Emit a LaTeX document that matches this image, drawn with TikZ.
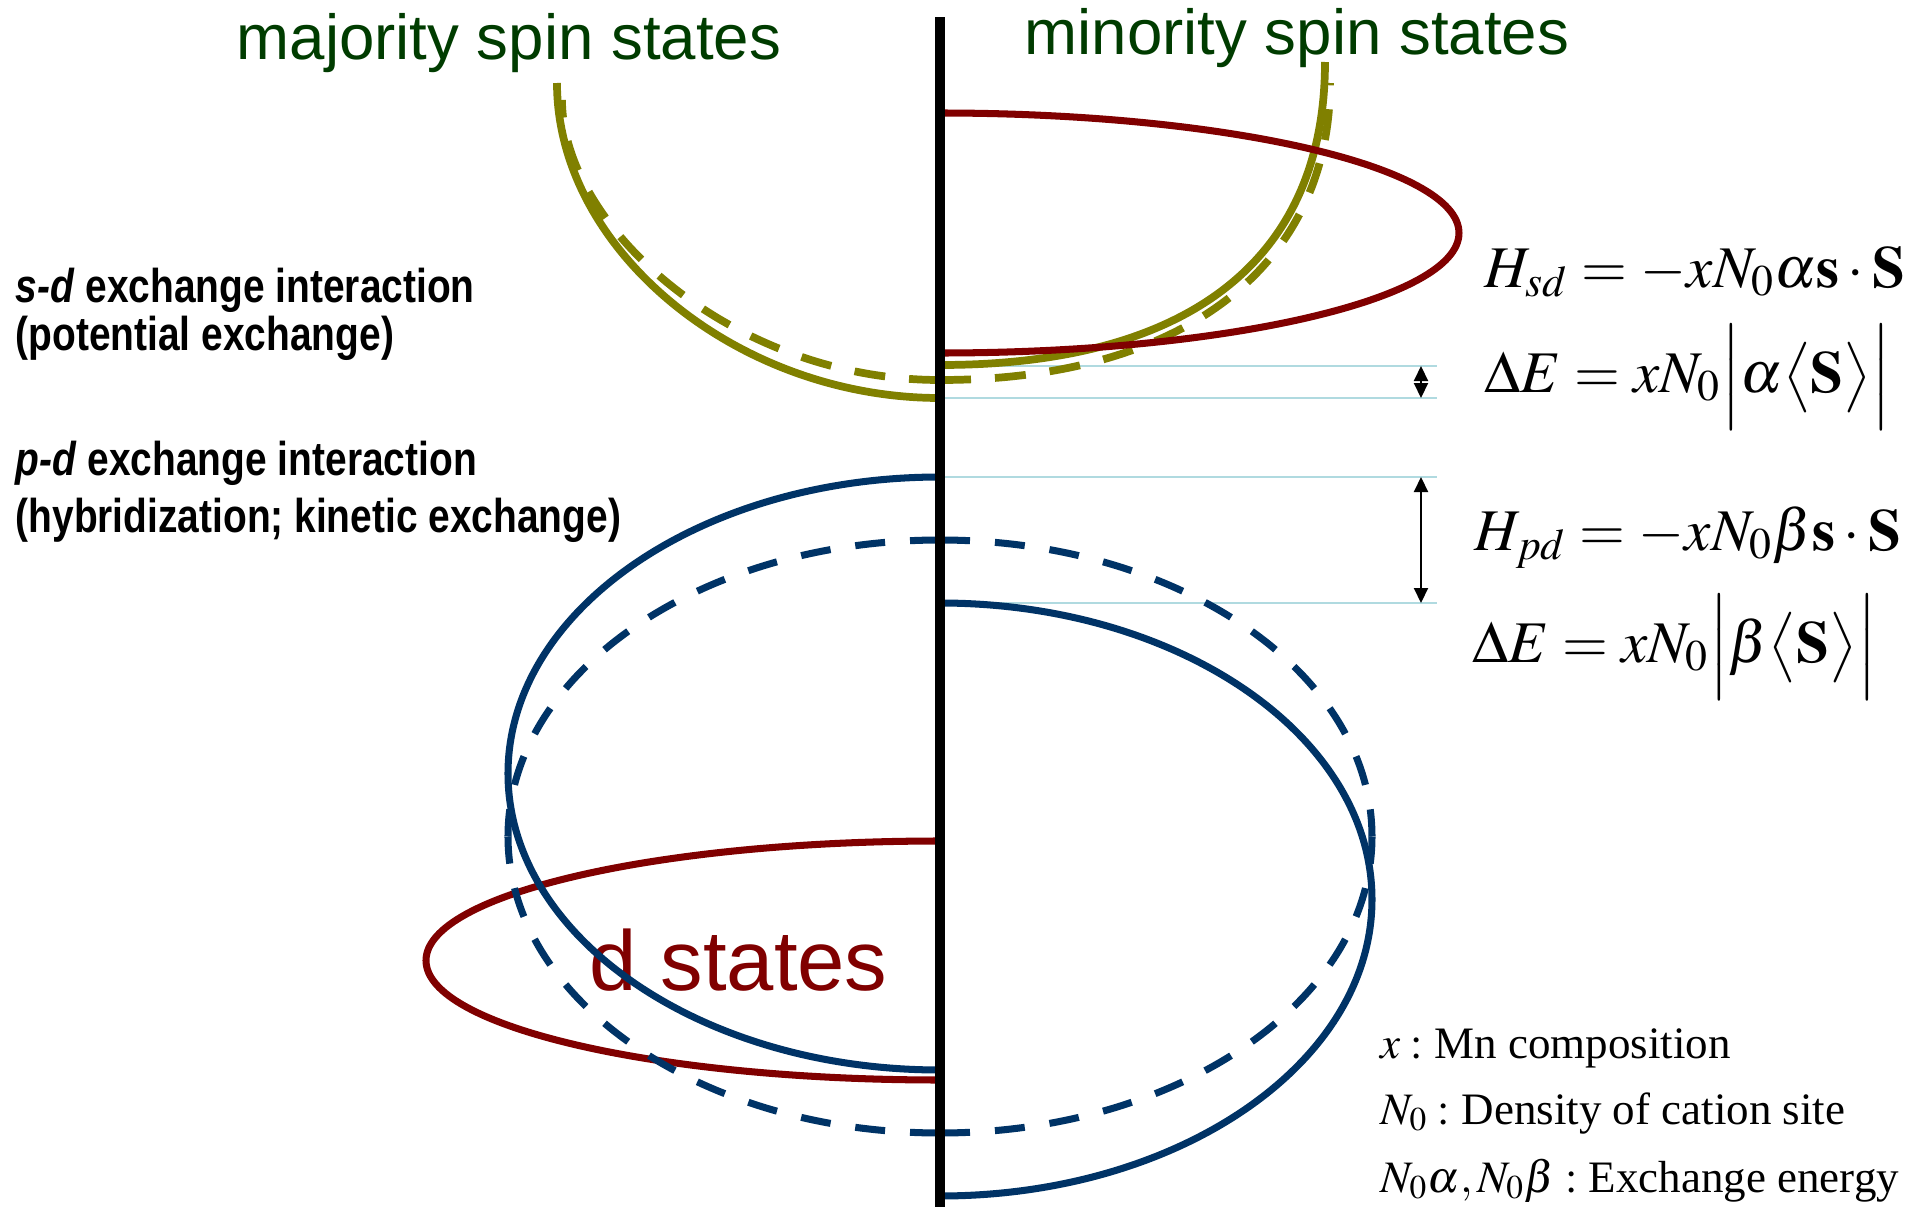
\documentclass[tikz,border=0pt]{standalone}
\usepackage{mathptmx}
\usepackage[no-math]{fontspec}
\newfontfamily\labelfont{Liberation Sans}
\newfontfamily\narrowfont[FakeStretch=0.82]{Liberation Sans}
\newfontfamily\timesfont{Liberation Serif}
\usetikzlibrary{arrows.meta}
\definecolor{olivecurve}{RGB}{128,128,0}
\definecolor{redcurve}{RGB}{128,0,0}
\definecolor{bluecurve}{RGB}{0,51,102}
\definecolor{levelline}{RGB}{176,218,224}
\definecolor{titlegreen}{RGB}{0,60,0}

\begin{document}
\begin{tikzpicture}[x=0.1mm,y=0.1mm,
  olv/.style={olivecurve,line width=2.2pt},
  dred/.style={redcurve,line width=2pt},
  dblue/.style={bluecurve,line width=2pt},
  olvdash/.style={dash pattern=on 3.1mm off 2.4mm},
  bluedash/.style={dash pattern=on 3mm off 2.5mm},
  level/.style={levelline,line width=0.6pt},
  gaparrow/.style={{Triangle[length=1.5mm,width=1.4mm]}-{Triangle[length=1.5mm,width=1.4mm]},line width=0.6pt},
  txt/.style={inner sep=0pt,anchor=base west}]
  \useasboundingbox (0,0) rectangle (1925,1207);

  \coordinate (axtop) at (940,1190);
  \coordinate (axbot) at (940,0);
  \coordinate (lv1) at (940,841);  \coordinate (lv1e) at (1437,841);
  \coordinate (lv2) at (940,809);  \coordinate (lv2e) at (1437,809);
  \coordinate (lv3) at (940,730);  \coordinate (lv3e) at (1437,730);
  \coordinate (lv4) at (940,604);  \coordinate (lv4e) at (1437,604);
  \coordinate (ar1) at (1421,841); \coordinate (ar2) at (1421,809);
  \coordinate (ar3) at (1421,730); \coordinate (ar4) at (1421,604);

  \draw[level] (lv1) -- (lv1e);
  \draw[level] (lv2) -- (lv2e);
  \draw[level] (lv3) -- (lv3e);
  \draw[level] (lv4) -- (lv4e);
  \draw[gaparrow] (ar1) -- (ar2);
  \draw[gaparrow] (ar3) -- (ar4);

  \draw[olv] (557,1124) .. controls (557,957) and (737,809) .. (940,809);
  \draw[olv] (940,842) .. controls (1190,842) and (1325,948) .. (1325,1145);
  \draw[olv,olvdash] (940,827) .. controls (732,827) and (562,981) .. (562,1107);
  \draw[olv,olvdash] (940,827) .. controls (1182,827) and (1330,940) .. (1330,1124);

  \draw[dred] (940,1094) arc[start angle=90,end angle=-90,x radius=519,y radius=120];
  \draw[dred] (940,366) arc[start angle=90,end angle=270,x radius=514,y radius=119.5];

  \node[txt,redcurve,font=\labelfont\fontsize{24.2}{28}\selectfont] (dst) at (589,217) {d states};

  \draw[dblue] (940,730) arc[start angle=90,end angle=270,x radius=432,y radius=296.5];
  \draw[dblue] (940,604) arc[start angle=90,end angle=-90,x radius=432,y radius=296.5];
  \foreach \sy/\a/\b in {667/90/180, 74/270/180, 667/90/0, 74/270/360}
    \draw[dblue,bluedash] (940,\sy) arc[start angle=\a,end angle=\b,x radius=432,y radius=296.5];

  \draw[line width=2.6pt] (axtop) -- (axbot);

  \node[txt,titlegreen,font=\labelfont\fontsize{18.1}{22}\selectfont] (maj) at (236,1148) {majority spin states};
  \node[txt,titlegreen,font=\labelfont\fontsize{18.1}{22}\selectfont] (mnr) at (1024,1153) {minority spin states};

  \node[txt,font=\narrowfont\bfseries\fontsize{13.5}{16}\selectfont] (sd1) at (15,905) {\textit{s-d} exchange interaction};
  \node[txt,font=\narrowfont\bfseries\fontsize{13.5}{16}\selectfont] (sd2) at (15,857) {(potential exchange)};
  \node[txt,font=\narrowfont\bfseries\fontsize{13.5}{16}\selectfont] (pd1) at (15,732) {\textit{p-d} exchange interaction};
  \node[txt,font=\narrowfont\bfseries\fontsize{13.5}{16}\selectfont] (pd2) at (15,675) {(hybridization; kinetic exchange)};

  \node[txt,font=\fontsize{16.8}{20}\selectfont] (hsd) at (1484,920) {$H_{sd}=-xN_0\alpha\mathbf{s}\cdot\mathbf{S}$};
  \node[txt,font=\fontsize{16.8}{20}\selectfont] (dea) at (1484,815) {$\Delta E=xN_0\Bigl|\alpha\bigl\langle\mathbf{S}\bigr\rangle\Bigr|$};
  \node[txt,font=\fontsize{16.8}{20}\selectfont] (hpd) at (1474,657) {$H_{pd}=-xN_0\beta\mathbf{s}\cdot\mathbf{S}$};
  \node[txt,font=\fontsize{16.8}{20}\selectfont] (deb) at (1472,545) {$\Delta E=xN_0\Bigl|\beta\bigl\langle\mathbf{S}\bigr\rangle\Bigr|$};

  \node[txt,font=\timesfont\fontsize{12.8}{15}\selectfont] (lx) at (1380,149) {$x:$ Mn composition};
  \node[txt,font=\timesfont\fontsize{12.8}{15}\selectfont] (ln) at (1380,83) {$N_0:$ Density of cation site};
  \node[txt,font=\timesfont\fontsize{12.8}{15}\selectfont] (le) at (1380,15) {$N_0\alpha, N_0\beta:$ Exchange energy};
\end{tikzpicture}
\end{document}
